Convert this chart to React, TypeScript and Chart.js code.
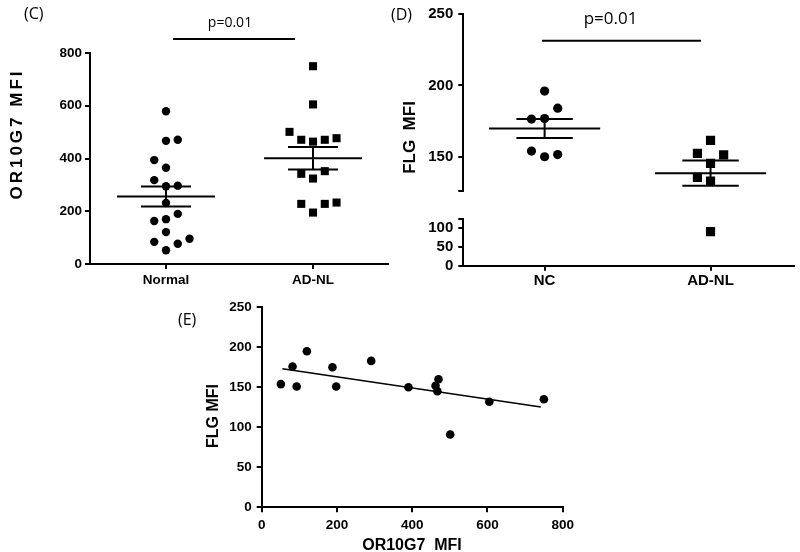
import React, { useEffect, useRef } from 'react';
import { Chart, registerables } from 'chart.js';
Chart.register(...registerables);

// ---------- Panel C: OR10G7 MFI ----------
const cCategories = ['Normal', 'AD-NL'];
const cNormalValues = [579, 467, 471, 394, 365, 318, 295, 297, 231, 190, 163, 170, 121, 84, 77, 96, 52];
const cNormalJitter = [0, 0, 1, -1, 0, -1, 0, 1, 0, 1, -1, 0, 0, -1, 1, 2, 0];
const cADNLValues = [750, 605, 501, 471, 464, 471, 477, 342, 352, 324, 228, 228, 233, 195];
const cADNLJitter = [0, 0, -2, -1, 0, 1, 2, -1, 1, 0, -1, 1, 2, 0];
const cMeans = [256, 401];
const cSEM = [38, 43];
const cYTicks = [0, 200, 400, 600, 800];

// ---------- Panel D: FLG MFI (broken axis) ----------
const dCategories = ['NC', 'AD-NL'];
const dNCValues = [196, 184, 176.4, 176.8, 154, 150, 151.5];
const dNCJitter = [0, 1, -1, 0, -1, 0, 1];
const dADNLValues = [161.4, 152.4, 151.3, 145.3, 135.5, 132.9, 91.3];
const dADNLJitter = [0, -1, 1, 0, -1, 0, 0];
const dMeans = [169.8, 138.5];
const dSEM = [6.6, 8.8];
const dUpperTicks = [126, 150, 200, 250];
const dLowerTicks = [0, 50, 100, 125];
const dBreakLow = 125;
const dBreakHigh = 126;

// ---------- Panel E: correlation ----------
const eOR10G7 = [51, 82, 93, 120, 188, 198, 291, 390, 462, 470, 467, 501, 605, 750];
const eFLG = [154, 176, 151, 195, 175, 151, 183, 150, 152, 160, 145, 91, 132, 135];
const eFitX = [55, 742];
const eFitY = [173.3, 125.4];
const eXTicks = [0, 200, 400, 600, 800];
const eYTicks = [0, 50, 100, 150, 200, 250];

const TICK_FAMILY = "'Liberation Sans', Arial, sans-serif";
const NOTE_FAMILY = "'Open Sans', 'Noto Sans', sans-serif";

type TextItem = { text: string; x: number; y: number; font: string; rotate?: boolean; align?: CanvasTextAlign; spacing?: number };
type LineItem = { x1: number; y1: number; x2: number; y2: number; w: number };

function annotations(texts: TextItem[], lines: LineItem[]) {
  return {
    id: 'annotations',
    afterDraw(chart: any) {
      const ctx: CanvasRenderingContext2D = chart.ctx;
      ctx.save();
      ctx.strokeStyle = '#000';
      lines.forEach((l) => {
        ctx.lineWidth = l.w;
        ctx.beginPath();
        ctx.moveTo(l.x1, l.y1);
        ctx.lineTo(l.x2, l.y2);
        ctx.stroke();
      });
      texts.forEach((t) => {
        ctx.save();
        ctx.font = t.font;
        ctx.fillStyle = '#000';
        ctx.textAlign = t.align || 'center';
        ctx.textBaseline = 'middle';
        if (t.spacing) (ctx as any).letterSpacing = t.spacing + 'px';
        ctx.translate(t.x, t.y);
        if (t.rotate) ctx.rotate(-Math.PI / 2);
        ctx.fillText(t.text, 0, 0);
        ctx.restore();
      });
      ctx.restore();
    },
  };
}

function groupLines(centers: number[], means: number[], sems: number[], meanHalf: number, semHalf: number) {
  const out: any[] = [];
  centers.forEach((c, i) => {
    const m = means[i];
    const s = sems[i];
    const segs = [
      [{ x: c - meanHalf, y: m }, { x: c + meanHalf, y: m }],
      [{ x: c - semHalf, y: m + s }, { x: c + semHalf, y: m + s }],
      [{ x: c - semHalf, y: m - s }, { x: c + semHalf, y: m - s }],
      [{ x: c, y: m - s }, { x: c, y: m + s }],
    ];
    segs.forEach((d) =>
      out.push({ data: d, showLine: true, pointRadius: 0, borderColor: '#000', borderWidth: 2, backgroundColor: '#000' })
    );
  });
  return out;
}

function axisStyle(size: number, pad: number) {
  return {
    grid: { display: true, drawOnChartArea: false, drawTicks: true, tickLength: 5, color: '#000', lineWidth: 2 },
    border: { display: true, color: '#000', width: 2 },
    ticks: { color: '#000', font: { family: TICK_FAMILY, weight: 'bold', size }, padding: pad, maxRotation: 0, autoSkip: false },
  };
}

const baseOptions = {
  animation: false,
  responsive: false,
  events: [],
  plugins: { legend: { display: false }, tooltip: { enabled: false } },
};

function fixedTicks(values: number[]) {
  return (s: any) => {
    s.ticks = values.map((v) => ({ value: v }));
  };
}

function makeC() {
  const step = 0.08;
  const normal = cNormalValues.map((v, i) => ({ x: 1 + cNormalJitter[i] * step, y: v }));
  const adnl = cADNLValues.map((v, i) => ({ x: 2 + cADNLJitter[i] * step, y: v }));
  const ax = axisStyle(13.5, 3);
  return {
    type: 'scatter',
    data: {
      datasets: [
        { data: normal, pointStyle: 'circle', pointRadius: 4.2, backgroundColor: '#000', borderWidth: 0 },
        { data: adnl, pointStyle: 'rect', pointRadius: 5.7, backgroundColor: '#000', borderWidth: 0 },
        ...groupLines([1, 2], cMeans, cSEM, 0.333, 0.17),
      ],
    },
    options: {
      ...baseOptions,
      layout: { padding: { top: 53, right: 12, left: 0, bottom: 0 } },
      scales: {
        x: {
          type: 'linear', min: 0.483, max: 2.51, ...ax,
          afterBuildTicks: fixedTicks([1, 2]),
          afterFit: (s: any) => { s.height = 28; },
          ticks: { ...ax.ticks, callback: (_v: any, i: number) => cCategories[i] },
        },
        y: {
          type: 'linear', min: 0, max: 800, ...ax,
          afterBuildTicks: fixedTicks(cYTicks),
          afterFit: (s: any) => { s.width = 90; },
        },
      },
    },
    plugins: [
      annotations(
        [
          { text: '(C)', x: 24, y: 14, font: `16px ${NOTE_FAMILY}`, align: 'left' },
          { text: 'p=0.01', x: 230, y: 23, font: `14px ${NOTE_FAMILY}` },
          { text: 'OR10G7 MFI', x: 17, y: 134, font: `bold 17px ${TICK_FAMILY}`, rotate: true, spacing: 3 },
        ],
        [{ x1: 173, y1: 39, x2: 295, y2: 39, w: 2 }]
      ),
    ],
  };
}

const D_LEFT = 385;

function makeDUpper() {
  const step = 0.079;
  const nc = dNCValues.map((v, i) => ({ x: 1 + dNCJitter[i] * step, y: v })).filter((p) => p.y >= dBreakHigh);
  const ad = dADNLValues.map((v, i) => ({ x: 2 + dADNLJitter[i] * step, y: v })).filter((p) => p.y >= dBreakHigh);
  const ax = axisStyle(15, 5);
  return {
    type: 'scatter',
    data: {
      datasets: [
        { data: nc, pointStyle: 'circle', pointRadius: 4.6, backgroundColor: '#000', borderWidth: 0 },
        { data: ad, pointStyle: 'rect', pointRadius: 6.5, backgroundColor: '#000', borderWidth: 0 },
        ...groupLines([1, 2], dMeans, dSEM, 0.335, 0.17),
      ],
    },
    options: {
      ...baseOptions,
      layout: { padding: { top: 7.3, right: 1, left: 0, bottom: 5 } },
      scales: {
        x: { type: 'linear', min: 0.51, max: 2.5, display: false },
        y: {
          type: 'linear', min: dBreakHigh, max: 250, ...ax,
          afterBuildTicks: fixedTicks(dUpperTicks),
          afterFit: (s: any) => { s.width = 463.3 - D_LEFT; },
          ticks: { ...ax.ticks, callback: (v: any) => (v === dBreakHigh ? '' : String(v)) },
        },
      },
    },
    plugins: [
      annotations(
        [
          { text: '(D)', x: 391 - D_LEFT, y: 15.5, font: `16px ${NOTE_FAMILY}`, align: 'left' },
          { text: 'p=0.01', x: 610.5 - D_LEFT, y: 19, font: `17px ${NOTE_FAMILY}` },
          { text: 'FLG  MFI', x: 410.5 - D_LEFT, y: 137.5, font: `bold 17px ${TICK_FAMILY}`, rotate: true },
        ],
        [{ x1: 542 - D_LEFT, y1: 40.7, x2: 701 - D_LEFT, y2: 40.7, w: 2 }]
      ),
    ],
  };
}

function makeDLower() {
  const step = 0.079;
  const nc = dNCValues.map((v, i) => ({ x: 1 + dNCJitter[i] * step, y: v })).filter((p) => p.y <= dBreakLow);
  const ad = dADNLValues.map((v, i) => ({ x: 2 + dADNLJitter[i] * step, y: v })).filter((p) => p.y <= dBreakLow);
  const ax = axisStyle(15, 5);
  return {
    type: 'scatter',
    data: {
      datasets: [
        { data: nc, pointStyle: 'circle', pointRadius: 4.6, backgroundColor: '#000', borderWidth: 0 },
        { data: ad, pointStyle: 'rect', pointRadius: 6.5, backgroundColor: '#000', borderWidth: 0 },
      ],
    },
    options: {
      ...baseOptions,
      layout: { padding: { top: 13.3, right: 1, left: 0, bottom: 0 } },
      scales: {
        x: {
          type: 'linear', min: 0.51, max: 2.5, ...ax,
          afterBuildTicks: fixedTicks([1, 2]),
          afterFit: (s: any) => { s.height = 34.3; },
          ticks: { ...ax.ticks, padding: 1, callback: (_v: any, i: number) => dCategories[i] },
        },
        y: {
          type: 'linear', min: 0, max: dBreakLow, ...ax,
          afterBuildTicks: fixedTicks(dLowerTicks),
          afterFit: (s: any) => { s.width = 463.3 - D_LEFT; },
          ticks: { ...ax.ticks, callback: (v: any) => (v === dBreakLow ? '' : String(v)) },
        },
      },
    },
  };
}

const E_LEFT = 150;
const E_TOP = 290;

function makeE() {
  const pts = eOR10G7.map((x, i) => ({ x, y: eFLG[i] }));
  const fit = eFitX.map((x, i) => ({ x, y: eFitY[i] }));
  const ax = axisStyle(13.5, 5);
  return {
    type: 'scatter',
    data: {
      datasets: [
        { data: fit, showLine: true, pointRadius: 0, borderColor: '#000', borderWidth: 1.5 },
        { data: pts, pointStyle: 'circle', pointRadius: 4.3, backgroundColor: '#000', borderWidth: 0 },
      ],
    },
    options: {
      ...baseOptions,
      layout: { padding: { top: 17.3, right: 17.3, left: 0, bottom: 0 } },
      scales: {
        x: {
          type: 'linear', min: 0, max: 800, ...ax,
          afterBuildTicks: fixedTicks(eXTicks),
          afterFit: (s: any) => { s.height = 44.7; },
        },
        y: {
          type: 'linear', min: 0, max: 250, ...ax,
          afterBuildTicks: fixedTicks(eYTicks),
          afterFit: (s: any) => { s.width = 111.7; },
        },
      },
    },
    plugins: [
      annotations(
        [
          { text: '(E)', x: 178 - E_LEFT, y: 320 - E_TOP, font: `16px ${NOTE_FAMILY}`, align: 'left' },
          { text: 'FLG MFI', x: 214 - E_LEFT, y: 416 - E_TOP, font: `bold 16px ${TICK_FAMILY}`, rotate: true },
          { text: 'OR10G7  MFI', x: 412 - E_LEFT, y: 545.5 - E_TOP, font: `bold 16px ${TICK_FAMILY}` },
        ],
        []
      ),
    ],
  };
}

function ChartCanvas(props: { left: number; top: number; width: number; height: number; make: () => any }) {
  const ref = useRef<HTMLCanvasElement>(null);
  useEffect(() => {
    const chart = new Chart(ref.current as HTMLCanvasElement, props.make());
    return () => chart.destroy();
  }, []);
  const { left, top, width, height } = props;
  return (
    <canvas
      ref={ref}
      width={width}
      height={height}
      style={{ position: 'absolute', left, top, width, height, display: 'block' }}
    />
  );
}

export default function App() {
  return (
    <div style={{ position: 'fixed', left: 0, top: 0, width: 800, height: 552, background: '#fff', overflow: 'hidden' }}>
      <ChartCanvas left={0} top={0} width={400} height={292} make={makeC} />
      <ChartCanvas left={D_LEFT} top={0} width={800 - D_LEFT} height={205} make={makeDUpper} />
      <ChartCanvas left={D_LEFT} top={205} width={800 - D_LEFT} height={95} make={makeDLower} />
      <ChartCanvas left={E_LEFT} top={E_TOP} width={430} height={262} make={makeE} />
    </div>
  );
}
